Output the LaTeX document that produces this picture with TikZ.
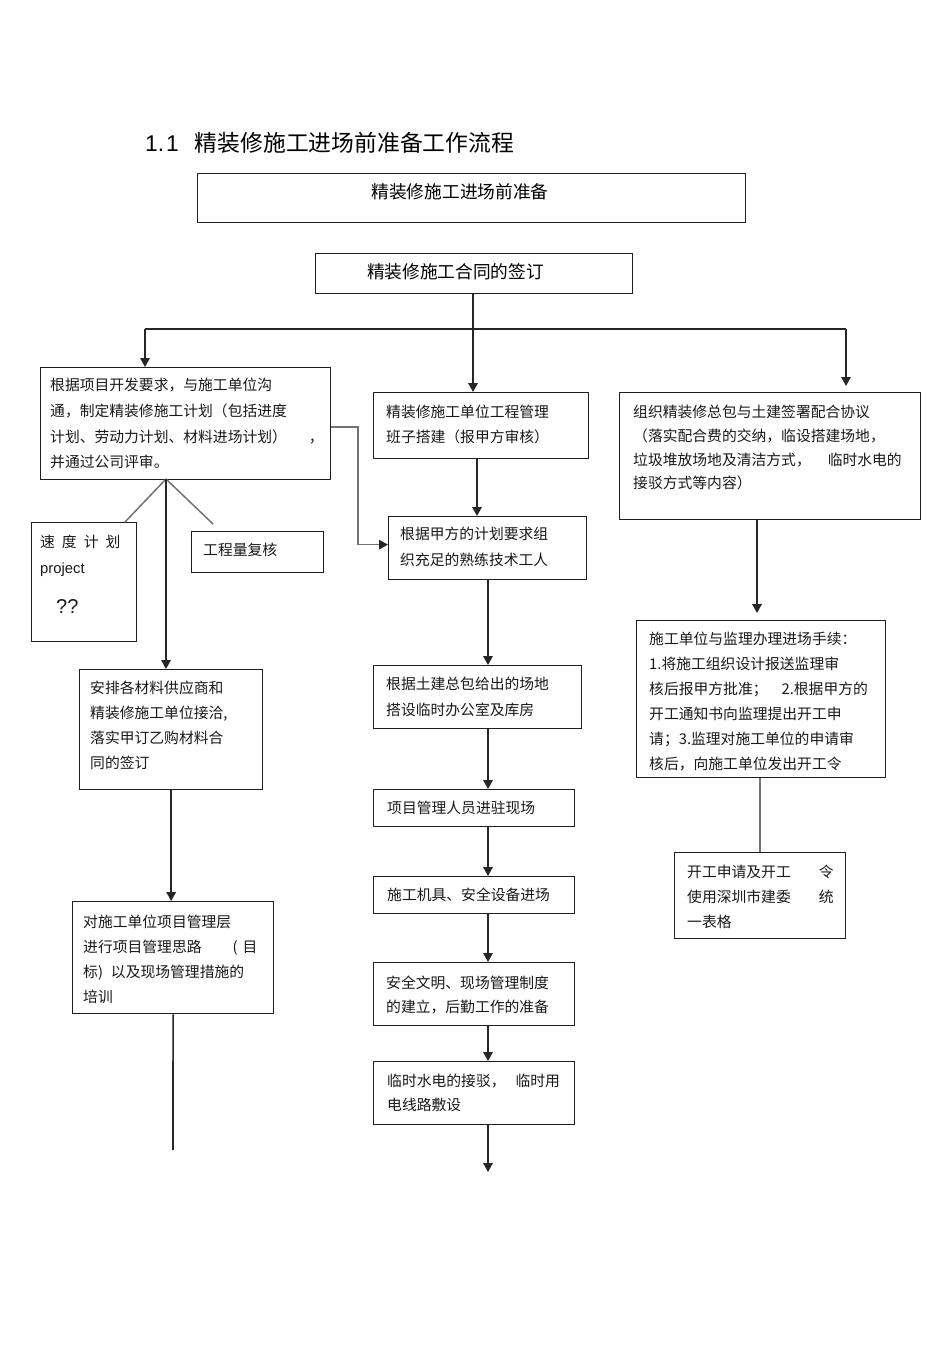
\documentclass[tikz,border=0pt]{standalone}
\usepackage{fontspec}
\setmainfont{Noto Sans CJK SC}
\newfontfamily\latfont{Liberation Sans}
\usetikzlibrary{arrows.meta,calc}
\newcommand{\mkbox}[5]{\node[box, anchor=north west, minimum width={#4-#2}, minimum height={#5-#3}] (#1) at (#2,#3) {};}
\tikzset{
  box/.style={draw=black!88, line width=1.3pt, inner sep=0pt, fill=none},
  txt/.style={anchor=base west, inner sep=0pt, text width=400pt, align=left, font=\fontsize{14.8}{25}\selectfont, text=black!90},
  conn/.style={draw=black!85, line width=1.7pt},
  arr/.style={conn, -{Triangle[length=9pt,width=9.5pt]}},
  gconn/.style={draw=black!55, line width=1.5pt},
  garr/.style={gconn, -{Triangle[length=9pt,width=9.5pt,color=black!85]}}
}
\begin{document}
\begin{tikzpicture}[x=1pt,y=-1pt]
\fill[white] (0,0) rectangle (950,1345);
\useasboundingbox (0,0) rectangle (950,1345);

% title
\node[anchor=base west, inner sep=0pt, font=\fontsize{22.8}{26}\selectfont] (title) at (145,151.7)
  {{\latfont 1.\hspace{2pt}1}\hspace{16pt}精装修施工进场前准备工作流程};

% boxes
\mkbox{B1}{197}{173}{745}{222}
\mkbox{B2}{315}{253}{632}{293}
\mkbox{L1}{40}{367}{330}{479}
\mkbox{SP}{31}{522}{136}{641}
\mkbox{GC}{191}{531}{323}{572}
\mkbox{L2}{79}{669}{262}{789}
\mkbox{L3}{72}{901}{273}{1013}
\mkbox{M1}{373}{392}{588}{458}
\mkbox{M2}{388}{516}{586}{579}
\mkbox{M3}{373}{665}{581}{728}
\mkbox{M4}{373}{789}{574}{826}
\mkbox{M5}{373}{876}{574}{913}
\mkbox{M6}{373}{962}{574}{1025}
\mkbox{M7}{373}{1061}{574}{1124}
\mkbox{R1}{619}{392}{920}{519}
\mkbox{R2}{636}{620}{885}{777}
\mkbox{R3}{674}{852}{845}{938}

% texts
\node[anchor=base, inner sep=0pt, font=\fontsize{17.7}{20}\selectfont] (tB1) at (460,198.7) {精装修施工进场前准备};
\node[anchor=base, inner sep=0pt, font=\fontsize{17.7}{20}\selectfont] (tB2) at (455.5,278.7) {精装修施工合同的签订};

\node[txt, font=\fontsize{14.8}{25.7}\selectfont] (tL1) at (50,390.6)
  {根据项目开发要求，与施工单位沟\\通，制定精装修施工计划（包括进度\\计划、劳动力计划、材料进场计划）\hspace{22pt}，\\并通过公司评审。};
\node[txt] (tSP1) at (40,547.6) {速\hspace{7pt}度\hspace{7pt}计\hspace{7pt}划};
\node[txt, font=\latfont\fontsize{14.8}{18}\selectfont] (tSP2) at (40,573) {project};
\node[txt, font=\latfont\fontsize{20}{22}\selectfont] (tSP3) at (56,613) {??};
\node[txt] (tGC) at (203,555.6) {工程量复核};
\node[txt] (tL2) at (90,693.6)
  {安排各材料供应商和\\精装修施工单位接洽,\\落实甲订乙购材料合\\同的签订};
\node[txt] (tL3) at (83,927.6)
  {对施工单位项目管理层\\进行项目管理思路\hspace{31pt}(\hspace{5pt}目\\标)\hspace{8pt}以及现场管理措施的\\培训};

\node[txt] (tM1) at (386,417.6) {精装修施工单位工程管理\\班子搭建（报甲方审核）};
\node[txt, font=\fontsize{14.8}{26}\selectfont] (tM2) at (400,539.6) {根据甲方的计划要求组\\织充足的熟练技术工人};
\node[txt, font=\fontsize{14.8}{26}\selectfont] (tM3) at (386,689.6) {根据土建总包给出的场地\\搭设临时办公室及库房};
\node[txt] (tM4) at (387,813.6) {项目管理人员进驻现场};
\node[txt] (tM5) at (387,900.6) {施工机具、安全设备进场};
\node[txt, font=\fontsize{14.8}{24}\selectfont] (tM6) at (386,988.6) {安全文明、现场管理制度\\的建立，后勤工作的准备};
\node[txt, font=\fontsize{14.8}{24}\selectfont] (tM7) at (387,1086.6) {临时水电的接驳，\hspace{10pt}临时用\\电线路敷设};

\node[txt, font=\fontsize{14.8}{23.7}\selectfont] (tR1) at (633,417.6)
  {组织精装修总包与土建签署配合协议\\（落实配合费的交纳，临设搭建场地，\\垃圾堆放场地及清洁方式，\hspace{17pt}临时水电的\\接驳方式等内容）};
\node[txt] (tR2) at (649,644.6)
  {施工单位与监理办理进场手续：\\1.将施工组织设计报送监理审\\核后报甲方批准；\hspace{14pt}2.根据甲方的\\开工通知书向监理提出开工申\\请；3.监理对施工单位的申请审\\核后，向施工单位发出开工令};
\node[txt] (tR3) at (687,877.6)
  {开工申请及开工\hspace{28pt}令\\使用深圳市建委\hspace{28pt}统\\一表格};

% connector coordinates
\coordinate (j) at (473,329);
\coordinate (jl) at (145,329);
\coordinate (jr) at (846,329);
\coordinate (k1) at (358,427);
\coordinate (fan) at (166,479);
\coordinate (f1) at (125,522);
\coordinate (g1) at (213,524);
\coordinate (lend) at (173,1150);
\coordinate (cm) at (488,0);
\coordinate (cm1) at (477,0);
\coordinate (cr) at (757,0);
\coordinate (cr2) at (760,0);
\coordinate (mend) at (488,1172);

% connectors
\draw[conn] (B2.south -| j) -- (j);
\draw[conn] (jl) -- (jr);
\draw[arr] (jl) -- (L1.north -| jl);
\draw[arr] (j) -- (M1.north -| j);
\draw[arr, shorten >=6pt] (jr) -- (R1.north -| jr);

\draw[garr] (L1.east |- k1) -- (k1) |- ([yshift=3.5pt]M2.west);
\draw[gconn] (fan) -- (f1);
\draw[gconn] (fan) -- (g1);
\draw[arr] (fan) -- (fan |- L2.north);
\draw[arr] (L2.south) -- (L3.north -| L2.south);
\draw[conn] (L3.south) -- (lend);

\draw[arr] (M1.south -| cm1) -- (M2.north -| cm1);
\draw[arr] (M2.south -| cm) -- (M3.north -| cm);
\draw[arr] (M3.south -| cm) -- (M4.north -| cm);
\draw[arr] (M4.south -| cm) -- (M5.north -| cm);
\draw[arr] (M5.south -| cm) -- (M6.north -| cm);
\draw[arr] (M6.south -| cm) -- (M7.north -| cm);
\draw[arr] (M7.south -| cm) -- (mend);

\draw[arr, shorten >=7pt] (R1.south -| cr) -- (R2.north -| cr);
\draw[gconn] (R2.south -| cr2) -- (R3.north -| cr2);
\end{tikzpicture}
\end{document}
